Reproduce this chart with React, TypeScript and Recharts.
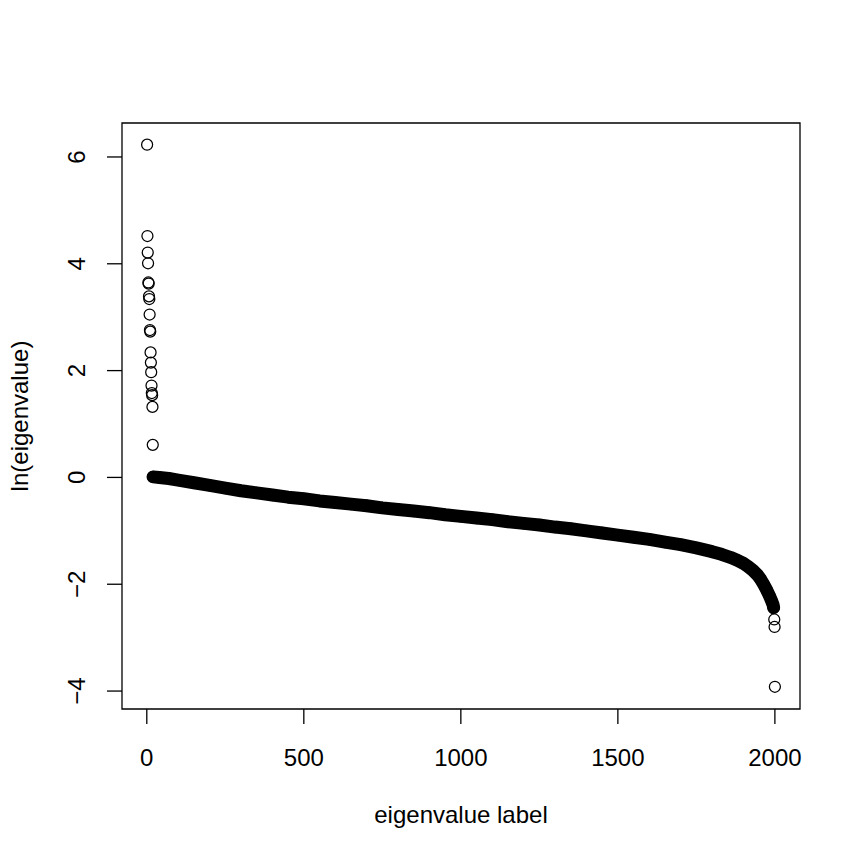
import { ScatterChart, Scatter, XAxis, YAxis, ReferenceArea } from 'recharts';

// leading eigenvalues that sit above the bulk
const headIdx = [1, 2, 3, 4, 5, 6, 7, 8, 9, 10, 11, 12, 13, 14, 15, 16, 17, 18, 19];
const headVal = [6.23, 4.52, 4.21, 4.01, 3.65, 3.63, 3.39, 3.34, 3.05, 2.76, 2.73, 2.34, 2.15, 1.97, 1.72, 1.58, 1.54, 1.32, 0.61];

// bulk of the spectrum (read along the dense band)
const bulkIdx = [
  20, 40, 70, 100, 150, 200, 250, 300, 350, 400, 450, 500, 550, 600, 650, 700, 750, 800, 850, 900,
  950, 1000, 1050, 1100, 1150, 1200, 1250, 1300, 1350, 1400, 1450, 1500, 1550, 1600, 1650, 1700,
  1750, 1800, 1830, 1860, 1880, 1900, 1915, 1930, 1945, 1955, 1965, 1975, 1983, 1990, 1994, 1996,
];
const bulkVal = [
  0.01, 0.0, -0.02, -0.05, -0.1, -0.15, -0.2, -0.25, -0.29, -0.33, -0.37, -0.4, -0.44, -0.47, -0.5, -0.53, -0.57, -0.6, -0.63, -0.66,
  -0.7, -0.73, -0.76, -0.79, -0.83, -0.86, -0.89, -0.93, -0.96, -1.0, -1.04, -1.08, -1.12, -1.16, -1.21, -1.26,
  -1.32, -1.39, -1.44, -1.5, -1.55, -1.61, -1.67, -1.74, -1.83, -1.91, -2.01, -2.12, -2.22, -2.32, -2.38, -2.44,
];

// smallest eigenvalues below the bulk
const tailIdx = [1998, 1999, 2000];
const tailVal = [-2.66, -2.8, -3.92];

const xTicks = [0, 500, 1000, 1500, 2000];
const yTicks = [-4, -2, 0, 2, 4, 6];

const toPoints = (xs: number[], ys: number[]) => xs.map((x, i) => ({ x, y: ys[i] }));
const outliers = [...toPoints(headIdx, headVal), ...toPoints(tailIdx, tailVal)];
const bulk = toPoints(bulkIdx, bulkVal);

const FONT = '"Liberation Sans", Arial, Helvetica, sans-serif';
const X_MIN = -78.96;
const X_MAX = 2079.96;
const Y_MIN = -4.336;
const Y_MAX = 6.636;

const minus = (v: number) => String(v).replace('-', '\u2212');

const OpenCircle = (p: any) => (
  <circle cx={p.cx} cy={p.cy} r={5.5} fill="none" stroke="#000" strokeWidth={1.25} />
);

const XTick = (p: any) => (
  <text x={p.x} y={766} textAnchor="middle" fontSize={24} fontFamily={FONT} fill="#000">
    {minus(p.payload.value)}
  </text>
);

const YTick = (p: any) => (
  <text
    x={85}
    y={p.y}
    transform={`rotate(-90, 85, ${p.y})`}
    textAnchor="middle"
    fontSize={24}
    fontFamily={FONT}
    fill="#000"
  >
    {minus(p.payload.value)}
  </text>
);

export default function App() {
  return (
    <div style={{ position: 'absolute', left: 0, top: 0, background: '#fff' }}>
      <ScatterChart width={863} height={863} margin={{ top: 123, right: 63, bottom: 94, left: 62 }}>
        <XAxis
          type="number"
          dataKey="x"
          domain={[X_MIN, X_MAX]}
          ticks={xTicks}
          allowDataOverflow
          axisLine={false}
          tickSize={15}
          tickLine={{ stroke: '#000', strokeWidth: 1.3 }}
          tick={<XTick />}
          height={60}
          label={{
            content: () => (
              <text x={461} y={823} textAnchor="middle" fontSize={24} fontFamily={FONT} fill="#000">
                eigenvalue label
              </text>
            ),
          }}
        />
        <YAxis
          type="number"
          dataKey="y"
          domain={[Y_MIN, Y_MAX]}
          ticks={yTicks}
          allowDataOverflow
          axisLine={false}
          tickSize={15}
          tickLine={{ stroke: '#000', strokeWidth: 1.3 }}
          tick={<YTick />}
          width={60}
          label={{
            content: () => (
              <text
                x={28}
                y={416}
                transform="rotate(-90, 28, 416)"
                textAnchor="middle"
                fontSize={24}
                fontFamily={FONT}
                fill="#000"
              >
                ln(eigenvalue)
              </text>
            ),
          }}
        />
        <ReferenceArea
          x1={X_MIN}
          x2={X_MAX}
          y1={Y_MIN}
          y2={Y_MAX}
          fill="none"
          stroke="#000"
          strokeWidth={1.3}
          fillOpacity={0}
        />
        <Scatter
          data={bulk}
          fill="#000"
          isAnimationActive={false}
          line={{ stroke: '#000', strokeWidth: 13, strokeLinecap: 'round', strokeLinejoin: 'round' }}
          shape={OpenCircle}
        />
        <Scatter data={outliers} fill="#000" isAnimationActive={false} shape={OpenCircle} />
      </ScatterChart>
    </div>
  );
}
